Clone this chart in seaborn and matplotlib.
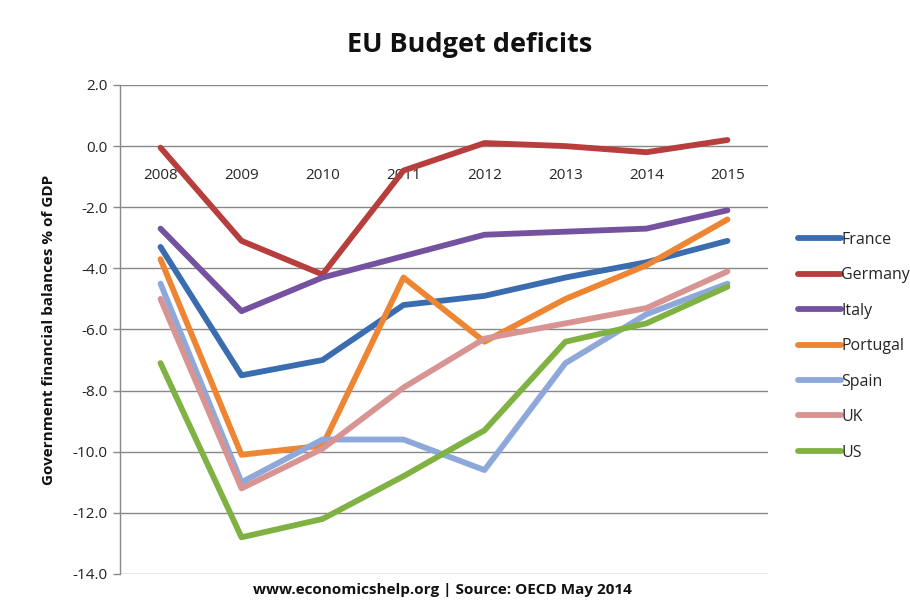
import matplotlib
matplotlib.use("Agg")
import matplotlib.pyplot as plt
import seaborn as sns
import pandas as pd

years = ["2008", "2009", "2010", "2011", "2012", "2013", "2014", "2015"]
france = [-3.3, -7.5, -7.0, -5.2, -4.9, -4.3, -3.8, -3.1]
germany = [-0.05, -3.1, -4.2, -0.8, 0.1, 0.0, -0.2, 0.2]
italy = [-2.7, -5.4, -4.3, -3.6, -2.9, -2.8, -2.7, -2.1]
portugal = [-3.7, -10.1, -9.8, -4.3, -6.4, -5.0, -3.9, -2.4]
spain = [-4.5, -11.0, -9.6, -9.6, -10.6, -7.1, -5.5, -4.5]
uk = [-5.0, -11.2, -9.9, -7.9, -6.3, -5.8, -5.3, -4.1]
us = [-7.1, -12.8, -12.2, -10.8, -9.3, -6.4, -5.8, -4.6]

series = {"France": france, "Germany": germany, "Italy": italy, "Portugal": portugal,
          "Spain": spain, "UK": uk, "US": us}
colors = {"France": "#3A6CB0", "Germany": "#B83D3D", "Italy": "#7552A0",
          "Portugal": "#EE8533", "Spain": "#8EA9D9", "UK": "#D89493", "US": "#7FB143"}

rows = []
for name, vals in series.items():
    for i, v in enumerate(vals):
        rows.append({"idx": i, "Year": years[i], "value": v, "Country": name})
df = pd.DataFrame(rows)

sns.set_theme(style="white")
plt.rcParams["font.family"] = ["Open Sans", "DejaVu Sans"]

fig = plt.figure(figsize=(9.1, 6.04), dpi=100)
ax = fig.add_axes([0.1319, 0.0497, 0.712, 0.8096])

sns.lineplot(data=df, x="idx", y="value", hue="Country", palette=colors,
             linewidth=4.2, ax=ax, legend=True, sort=False)

ax.set_xlim(-0.5, 7.5)
ax.set_ylim(-14, 2)
ax.set_yticks([2, 0, -2, -4, -6, -8, -10, -12, -14])
ax.set_yticklabels([f"{t:.1f}" for t in [2, 0, -2, -4, -6, -8, -10, -12, -14]],
                   fontsize=11, color="#222222")
ax.yaxis.grid(True, color="#888888", linewidth=1)
ax.set_axisbelow(True)

ax.set_xticks(range(len(years)))
ax.set_xticklabels(years, fontsize=11, color="#222222")
ax.spines["bottom"].set_position(("data", 0))
ax.spines["bottom"].set_visible(False)
ax.tick_params(axis="x", length=0, pad=16)
ax.tick_params(axis="y", left=True, length=5, width=1, color="#888888", pad=4)
for s in ["top", "right"]:
    ax.spines[s].set_visible(False)
ax.spines["left"].set_color("#888888")
ax.spines["left"].set_linewidth(1)

ax.set_xlabel("")
ax.set_ylabel("Government financial balances % of GDP", fontsize=11,
              fontweight="bold", color="#111111", labelpad=12)

leg = ax.legend(loc="center left", bbox_to_anchor=(1.037, 0.466), frameon=False,
                fontsize=11.5, handlelength=2.7, handletextpad=0.0,
                labelspacing=1.22, borderaxespad=0)
for line in leg.get_lines():
    line.set_linewidth(4.2)

fig.text(0.516, 0.925, "EU Budget deficits", ha="center", va="center",
         fontsize=19.5, fontweight="bold", color="#111111")
fig.text(0.486, 0.023, "www.economicshelp.org | Source: OECD May 2014",
         ha="center", va="center", fontsize=11, fontweight="bold", color="#111111")

fig.savefig("out.png", dpi=100, facecolor="white")
